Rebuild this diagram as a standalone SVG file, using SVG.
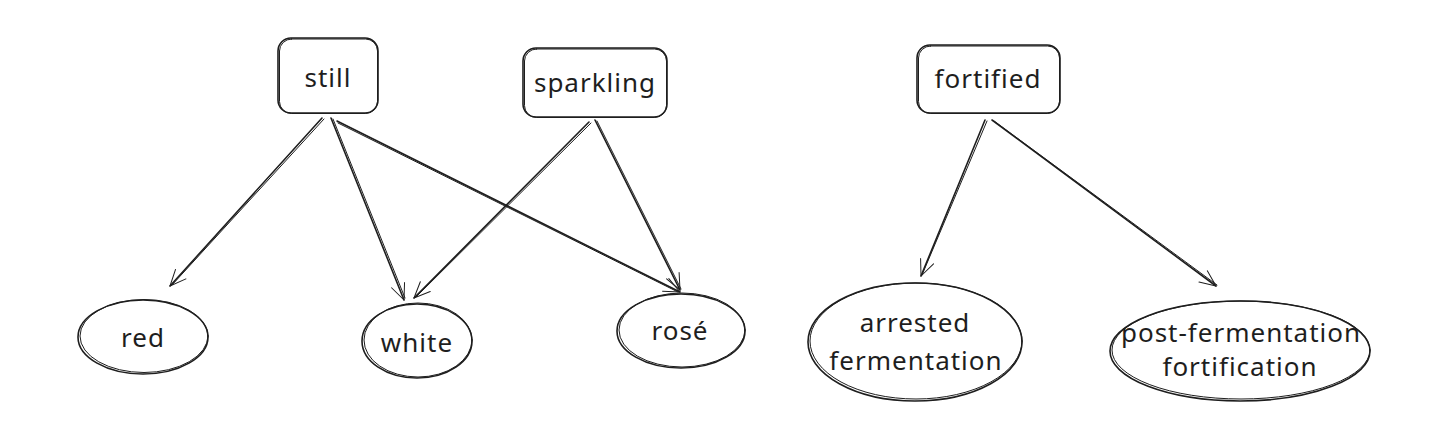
<svg xmlns="http://www.w3.org/2000/svg" width="1456" height="438" viewBox="0 0 1456 438">
<style>
.s{fill:none;stroke:#1e1e1e;stroke-width:1.6;stroke-linecap:round;stroke-linejoin:round}
.s2{fill:none;stroke:#1e1e1e;stroke-width:1;stroke-linecap:round;stroke-linejoin:round}
.t{font-family:"Noto Sans","Liberation Sans",sans-serif;font-size:26px;letter-spacing:1px;fill:#1e1e1e;text-anchor:middle;dominant-baseline:central}
</style>
<defs>
<marker id="ah" viewBox="0 0 20 20" refX="18" refY="10" markerWidth="20" markerHeight="20" markerUnits="userSpaceOnUse" orient="auto">
<path d="M2 3 L18 10 L2 17" class="s2" stroke-width="1.4"/>
</marker>
</defs>
<rect width="1456" height="438" fill="#ffffff"/>
<g id="connectors">
<path class="s" d="M322 118 L170 286" marker-end="url(#ah)"/>
<path class="s2" d="M324 119 L172 285"/>
<path class="s" d="M331 118 L404 300" marker-end="url(#ah)"/>
<path class="s2" d="M333 119 L405 298"/>
<path class="s" d="M337 121 L680 292" marker-end="url(#ah)"/>
<path class="s2" d="M338 123 L678 292"/>
<path class="s" d="M589 122 L414 298" marker-end="url(#ah)"/>
<path class="s2" d="M591 123 L416 297"/>
<path class="s" d="M595 120 L680 290" marker-end="url(#ah)"/>
<path class="s2" d="M597 121 L681 289"/>
<path class="s" d="M985 120 L921 276" marker-end="url(#ah)"/>
<path class="s2" d="M987 121 L922 275"/>
<path class="s" d="M992 120 L1216 286" marker-end="url(#ah)"/>
<path class="s2" d="M994 121 L1217 285"/>
</g>
<g id="still">
<rect class="s" x="278" y="38" width="100" height="75" rx="13"/>
<rect class="s2" x="279.5" y="39" width="98" height="74.5" rx="12"/>
<text class="t" x="328" y="77">still</text>
</g>
<g id="sparkling">
<rect class="s" x="523" y="48" width="144" height="69" rx="13"/>
<rect class="s2" x="524.5" y="49" width="142" height="68.5" rx="12"/>
<text class="t" x="595" y="82">sparkling</text>
</g>
<g id="fortified">
<rect class="s" x="917" y="45" width="143" height="68" rx="13"/>
<rect class="s2" x="918.5" y="46" width="141" height="67.5" rx="12"/>
<text class="t" x="988" y="78">fortified</text>
</g>
<g id="red">
<ellipse class="s" cx="143" cy="337" rx="65" ry="37"/>
<ellipse class="s2" cx="144" cy="336" rx="64" ry="36.5"/>
<text class="t" x="143" y="337">red</text>
</g>
<g id="white">
<ellipse class="s" cx="417" cy="341" rx="55" ry="37"/>
<ellipse class="s2" cx="418" cy="340" rx="54" ry="37"/>
<text class="t" x="417" y="342">white</text>
</g>
<g id="rose">
<ellipse class="s" cx="681" cy="331" rx="64" ry="37"/>
<ellipse class="s2" cx="682" cy="330" rx="63" ry="37"/>
<text class="t" x="680" y="330">rosé</text>
</g>
<g id="arrested">
<ellipse class="s" cx="915" cy="342" rx="107" ry="59"/>
<ellipse class="s2" cx="916" cy="341" rx="106" ry="58"/>
<text class="t" x="915" y="322">arrested</text>
<text class="t" x="916" y="360">fermentation</text>
</g>
<g id="post">
<ellipse class="s" cx="1240" cy="351" rx="130" ry="50"/>
<ellipse class="s2" cx="1241" cy="350" rx="129" ry="49"/>
<text class="t" x="1241" y="332">post-fermentation</text>
<text class="t" x="1240" y="366">fortification</text>
</g>
</svg>
